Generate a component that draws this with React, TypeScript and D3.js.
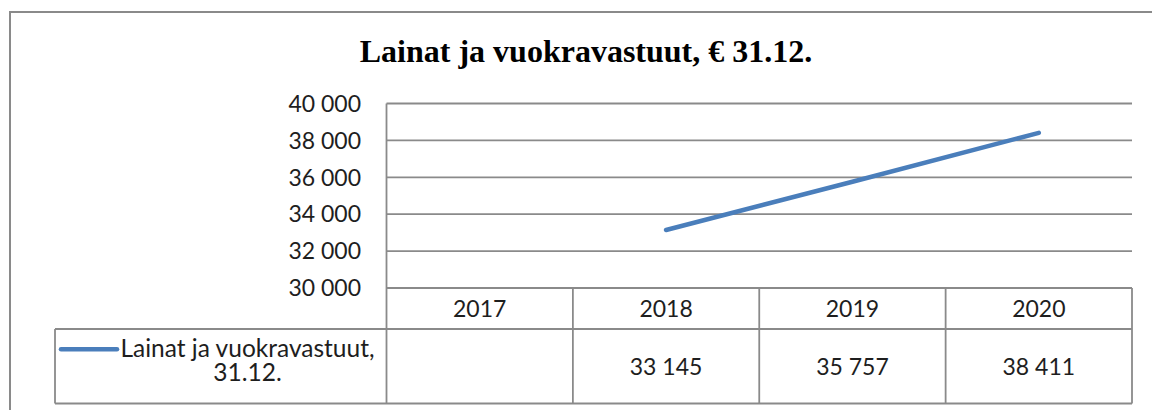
import React from 'react';
import * as d3 from 'd3';

const title = 'Lainat ja vuokravastuut, € 31.12.';
const seriesName = ['Lainat ja vuokravastuut,', '31.12.'];
const years = ['2017', '2018', '2019', '2020'];
const values: (number | null)[] = [null, 33145, 35757, 38411];
const yTicks = [30000, 32000, 34000, 36000, 38000, 40000];

const width = 1152;
const height = 410;
const grey = '#8a8a8a';
const blue = '#4a7ebb';
const sans = 'Lato, "Open Sans", sans-serif';

const locale = d3.formatLocale({
    decimal: ',',
    thousands: '\u00a0',
    grouping: [3],
    currency: ['', ' €'],
});
const fmt = locale.format(',d');

const App = () => {
    const plotLeft = 386.5;
    const plotRight = 1132;
    const plotTop = 103.5;
    const plotBottom = 288;
    const headerBottom = 329;
    const tableBottom = 403.5;
    const legendLeft = 55;

    const x = d3.scaleBand<string>().domain(years).range([plotLeft, plotRight]);
    const y = d3.scaleLinear().domain([30000, 40000]).range([plotBottom, plotTop]);

    const line = d3
        .line<number | null>()
        .defined(d => d != null)
        .x((d, i) => (x(years[i]) as number) + x.bandwidth() / 2)
        .y(d => y(d as number));

    const edges = years.map(yr => x(yr) as number).concat([plotRight]);
    const legendMid = 247.5;

    return (
        <svg
            width={width}
            height={height}
            style={{ position: 'absolute', left: 0, top: 0, background: '#fff' }}
        >
            <rect x={10} y={12} width={1160} height={420} fill="#fff" stroke={grey} strokeWidth={2} />

            <text
                x={586}
                y={62}
                textAnchor="middle"
                fontFamily='"Liberation Serif", "Times New Roman", serif'
                fontWeight="bold"
                fontSize={32}
                fill="#000"
            >
                {title}
            </text>

            {/* gridlines and value labels */}
            {yTicks.map(t => (
                <g key={t}>
                    <line x1={plotLeft} x2={plotRight} y1={y(t)} y2={y(t)} stroke={grey} strokeWidth={1.8} />
                    <text
                        x={361}
                        y={y(t)}
                        dy="0.36em"
                        textAnchor="end"
                        fontFamily={sans}
                        fontSize={23}
                        fill="#1e1e1e"
                    >
                        {fmt(t)}
                    </text>
                </g>
            ))}

            {/* data table */}
            <line x1={plotLeft} x2={plotLeft} y1={plotTop} y2={tableBottom} stroke={grey} strokeWidth={1.8} />
            <line x1={legendLeft} x2={plotRight} y1={headerBottom} y2={headerBottom} stroke={grey} strokeWidth={1.8} />
            <line x1={legendLeft} x2={plotRight} y1={tableBottom} y2={tableBottom} stroke={grey} strokeWidth={1.8} />
            <line x1={legendLeft} x2={legendLeft} y1={headerBottom} y2={tableBottom} stroke={grey} strokeWidth={1.8} />
            {edges.slice(1).map((e, i) => (
                <line key={i} x1={e} x2={e} y1={plotBottom} y2={tableBottom} stroke={grey} strokeWidth={1.8} />
            ))}
            {years.map((yr, i) => {
                const cx = (x(yr) as number) + x.bandwidth() / 2;
                const v = values[i];
                return (
                    <g key={yr} fontFamily={sans} fontSize={23} fill="#1e1e1e" textAnchor="middle">
                        <text x={cx} y={316.5}>{yr}</text>
                        {v != null && <text x={cx} y={374.5}>{fmt(v)}</text>}
                    </g>
                );
            })}

            {/* legend key */}
            <line x1={61} x2={117} y1={349.3} y2={349.3} stroke={blue} strokeWidth={4.5} strokeLinecap="round" />
            <g fontFamily={sans} fontSize={24.5} fill="#1e1e1e" textAnchor="middle">
                <text x={legendMid} y={357}>{seriesName[0]}</text>
                <text x={legendMid} y={381}>{seriesName[1]}</text>
            </g>

            <path d={line(values) || ''} fill="none" stroke={blue} strokeWidth={4.5} strokeLinecap="round" />
        </svg>
    );
};

export default App;
